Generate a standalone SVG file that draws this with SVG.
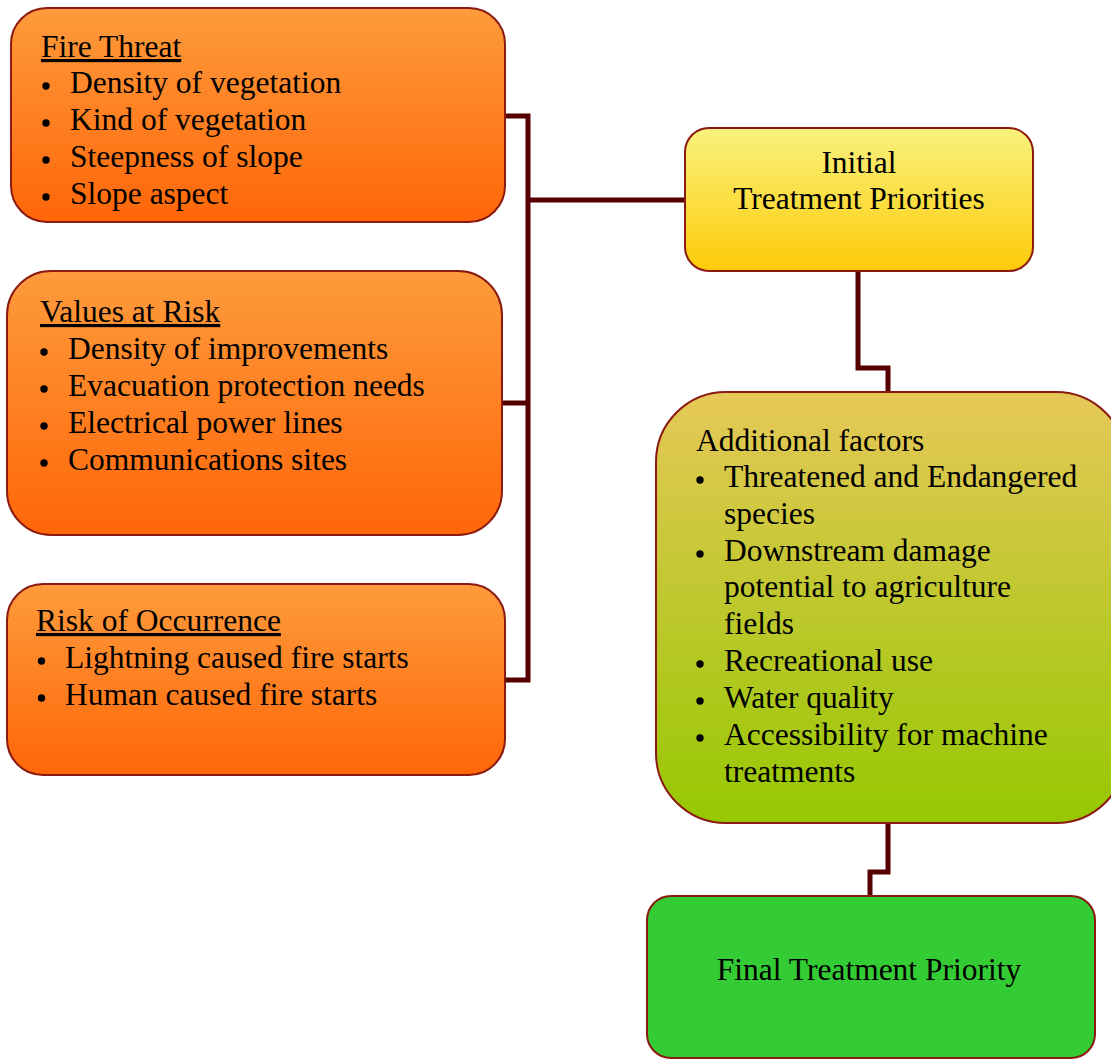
<svg xmlns="http://www.w3.org/2000/svg" width="1111" height="1059" viewBox="0 0 1111 1059">
<defs>
<linearGradient id="gOrange" x1="0" y1="0" x2="0" y2="1">
<stop offset="0" stop-color="#fd9b3c"/>
<stop offset="1" stop-color="#ff6608"/>
</linearGradient>
<linearGradient id="gYellow" x1="0" y1="0" x2="0" y2="1">
<stop offset="0" stop-color="#f9f27e"/>
<stop offset="1" stop-color="#fdcb08"/>
</linearGradient>
<linearGradient id="gOlive" x1="0" y1="0" x2="0" y2="1">
<stop offset="0" stop-color="#e6c858"/>
<stop offset="1" stop-color="#96c802"/>
</linearGradient>
<style>
.box{stroke:#8b1a10;stroke-width:2}
.t{font-family:"Liberation Serif","Times New Roman",serif;font-size:31.5px;fill:#000}
.u{text-decoration:underline}
.c{text-anchor:middle}
.dot{fill:#000}
.conn{fill:none;stroke:#560000;stroke-width:5;stroke-linejoin:miter}
</style>
</defs>
<rect width="1111" height="1059" fill="#fff"/>
<g id="connectors">
<path class="conn" d="M505 116 H528 V680 H505"/>
<path class="conn" d="M502 403 H528"/>
<path class="conn" d="M528 200 H685"/>
<path class="conn" d="M858 271 V368 H888 V392"/>
<path class="conn" d="M888 823 V872 H870 V896"/>
</g>
<g id="fire-threat">
<rect class="box" x="11" y="8" width="494" height="214" rx="36" fill="url(#gOrange)"/>
<circle class="dot" cx="46" cy="86" r="3.7"/>
<circle class="dot" cx="46" cy="123" r="3.7"/>
<circle class="dot" cx="46" cy="160" r="3.7"/>
<circle class="dot" cx="46" cy="197" r="3.7"/>
<text class="t u" x="41" y="57">Fire Threat</text>
<text class="t" x="70" y="93">Density of vegetation</text>
<text class="t" x="70" y="130">Kind of vegetation</text>
<text class="t" x="70" y="167">Steepness of slope</text>
<text class="t" x="70" y="204">Slope aspect</text>
</g>
<g id="values-at-risk">
<rect class="box" x="7" y="271" width="495" height="264" rx="44" fill="url(#gOrange)"/>
<circle class="dot" cx="44" cy="352" r="3.7"/>
<circle class="dot" cx="44" cy="389" r="3.7"/>
<circle class="dot" cx="44" cy="426" r="3.7"/>
<circle class="dot" cx="44" cy="463" r="3.7"/>
<text class="t u" x="40" y="322">Values at Risk</text>
<text class="t" x="68" y="359">Density of improvements</text>
<text class="t" x="68" y="396">Evacuation protection needs</text>
<text class="t" x="68" y="433">Electrical power lines</text>
<text class="t" x="68" y="470">Communications sites</text>
</g>
<g id="risk-of-occurrence">
<rect class="box" x="7" y="584" width="498" height="191" rx="36" fill="url(#gOrange)"/>
<circle class="dot" cx="41.5" cy="661" r="3.7"/>
<circle class="dot" cx="41.5" cy="698" r="3.7"/>
<text class="t u" x="36" y="631">Risk of Occurrence</text>
<text class="t" x="65" y="668">Lightning caused fire starts</text>
<text class="t" x="65" y="705">Human caused fire starts</text>
</g>
<g id="initial-treatment">
<rect class="box" x="685" y="128" width="348" height="143" rx="24" fill="url(#gYellow)"/>
<text class="t c" x="859" y="173">Initial</text>
<text class="t c" x="859" y="209">Treatment Priorities</text>
</g>
<g id="additional-factors">
<rect class="box" x="656" y="392" width="470" height="431" rx="70" fill="url(#gOlive)"/>
<circle class="dot" cx="700" cy="480" r="3.7"/>
<circle class="dot" cx="700" cy="554" r="3.7"/>
<circle class="dot" cx="700" cy="664" r="3.7"/>
<circle class="dot" cx="700" cy="701" r="3.7"/>
<circle class="dot" cx="700" cy="738" r="3.7"/>
<text class="t" x="696" y="451">Additional factors</text>
<text class="t" x="724" y="487">Threatened and Endangered</text>
<text class="t" x="724" y="524">species</text>
<text class="t" x="724" y="561">Downstream damage</text>
<text class="t" x="724" y="597">potential to agriculture</text>
<text class="t" x="724" y="634">fields</text>
<text class="t" x="724" y="671">Recreational use</text>
<text class="t" x="724" y="708">Water quality</text>
<text class="t" x="724" y="745">Accessibility for machine</text>
<text class="t" x="724" y="782">treatments</text>
</g>
<g id="final-treatment">
<rect class="box" x="647" y="896" width="448" height="162" rx="24" fill="#34cc34"/>
<text class="t c" x="869" y="980">Final Treatment Priority</text>
</g>
</svg>
